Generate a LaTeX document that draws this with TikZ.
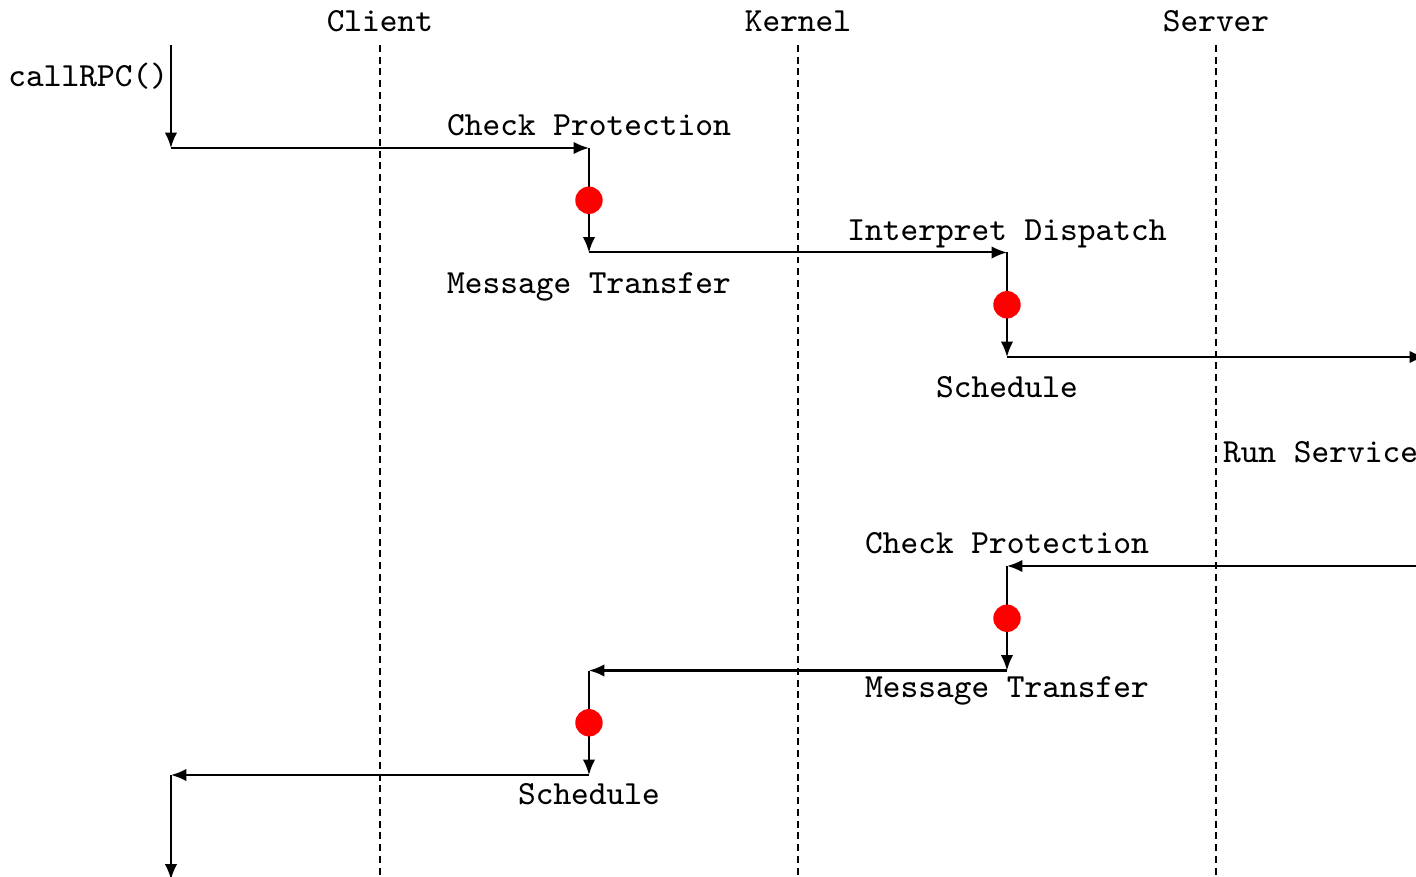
\documentclass[tikz,border=0pt]{standalone}
\usetikzlibrary{arrows.meta}

\begin{document}
\begin{tikzpicture}[x=1cm,y=1cm]

    \tikzset{
      lifeline/.style={
        dash pattern=on 1.9pt off 1.3pt,
        line width=0.5pt,
      },
      msg/.style={
        line width=0.55pt,
        -{Latex[length=4.2pt,width=3.4pt]},
      },
      txt/.style={
        font=\ttfamily\fontsize{9.2}{11}\selectfont,
        inner sep=0pt,
        anchor=base,
      },
      stamp/.style={
        circle,
        fill=red,
        inner sep=0pt,
        minimum size=0.262cm,
      },
    }
    \useasboundingbox (-3.636,-6.967) rectangle (9.914,1.416);
    \clip (-3.636,-6.967) rectangle (9.914,1.416);

    % lifelines
    \node[txt] (client) at (0,1.11) {Client};
    \node[txt] (kernel) at (4,1.11) {Kernel};
    \node[txt] (server) at (8,1.11) {Server};
    \foreach \n/\x in {client/0,kernel/4,server/8} {
      \coordinate (\n top) at (\x,0.986);
      \coordinate (\n end) at (\x,-7);
      \draw[lifeline] (\n top) -- (\n end);
    }

    % steps of the call
    \coordinate (p0) at (-2,0.986);
    \coordinate (p1) at (-2,0);
    \coordinate (p2) at (2,0);
    \coordinate (p3) at (2,-1);
    \coordinate (p4) at (6,-1);
    \coordinate (p5) at (6,-2);
    \coordinate (p6) at (10,-2);
    \coordinate (p7) at (10,-4);
    \coordinate (p8) at (6,-4);
    \coordinate (p9) at (6,-5);
    \coordinate (p10) at (2,-5);
    \coordinate (p11) at (2,-6);
    \coordinate (p12) at (-2,-6);
    \coordinate (p13) at (-2,-7);
    \foreach \a/\b in {p0/p1,p1/p2,p2/p3,p3/p4,p4/p5,p5/p6,p7/p8,p8/p9,p9/p10,p10/p11,p11/p12,p12/p13}
      \draw[msg] (\a) -- (\b);

    \node[stamp] (d1) at (2,-0.5) {};
    \node[stamp] (d2) at (6,-1.5) {};
    \node[stamp] (d3) at (6,-4.5) {};
    \node[stamp] (d4) at (2,-5.5) {};

    % labels
    \node[txt,anchor=base east] (call) at (-2.02,0.593) {callRPC()};
    \node[txt] (chk1) at (2,0.115) {Check Protection};
    \node[txt] (xfer1) at (2,-1.397) {Message Transfer};
    \node[txt] (disp) at (6,-0.89) {Interpret Dispatch};
    \node[txt] (sched1) at (6,-2.383) {Schedule};
    \node[txt,anchor=base west] (run) at (8.06,-3.005) {Run Service};
    \node[txt] (chk2) at (6,-3.885) {Check Protection};
    \node[txt] (xfer2) at (6,-5.254) {Message Transfer};
    \node[txt] (sched2) at (2,-6.278) {Schedule};

\end{tikzpicture}
\end{document}
